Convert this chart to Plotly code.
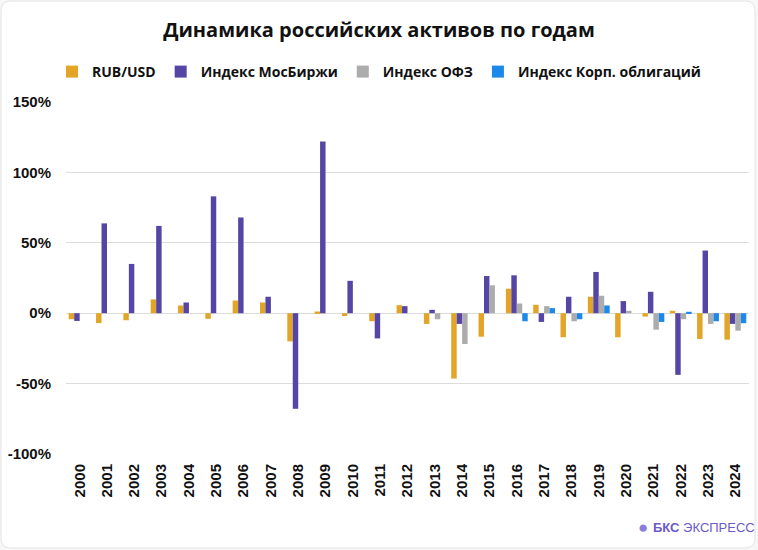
import plotly.graph_objects as go

years = [str(y) for y in range(2000, 2025)]
rub_usd = [-4.3, -7.0, -5.0, 9.8, 5.5, -4.0, 9.0, 7.6, -20.0, 1.2, -2.0, -5.7, 5.7, -7.6, -46.4, -16.7,
           17.4, 6.0, -17.1, 11.7, -17.1, -2.4, 1.7, -18.3, -18.8]
moex = [-5.5, 63.8, 35.0, 62.0, 7.6, 83.0, 68.0, 11.7, -67.9, 122.0, 23.0, -17.9, 5.0, 2.4, -7.6, 26.4,
        26.9, -6.2, 11.7, 29.3, 8.6, 15.2, -43.8, 44.5, -7.6]
ofz = [None, None, None, None, None, None, None, None, None, None, None, None, None, -4.3, -21.9, 19.8,
       6.9, 5.0, -5.7, 12.4, 1.7, -11.7, -4.3, -7.6, -12.4]
corp = [None, None, None, None, None, None, None, None, None, None, None, None, None, None, None, None,
        -5.7, 3.6, -4.3, 5.5, 0.0, -6.2, 1.0, -5.7, -7.1]
series_names = ["RUB/USD", "Индекс МосБиржи", "Индекс ОФЗ", "Индекс Корп. облигаций"]
colors = ["#E2A527", "#5546A6", "#ACACAC", "#1C88E8"]
y_ticks = [-100, -50, 0, 50, 100, 150]
y_tick_labels = [f"{v}%" for v in y_ticks]

W, H = 758, 550
ml, mr, mt, mb = 66, 9, 102, 96

fig = go.Figure()
for name, vals, col in zip(series_names, [rub_usd, moex, ofz, corp], colors):
    fig.add_trace(go.Bar(x=years, y=vals, name=name, marker=dict(color=col, line=dict(width=0))))

pw = W - ml - mr
ph = H - mt - mb
def px(x):
    return (x - ml) / pw
def py(y):
    return (H - mb - y) / ph
x0, y0, x1, y1, r = 1, 1, 755, 548, 10
path = (f"M {px(x0+r)},{py(y0)} L {px(x1-r)},{py(y0)} Q {px(x1)},{py(y0)} {px(x1)},{py(y0+r)} "
        f"L {px(x1)},{py(y1-r)} Q {px(x1)},{py(y1)} {px(x1-r)},{py(y1)} "
        f"L {px(x0+r)},{py(y1)} Q {px(x0)},{py(y1)} {px(x0)},{py(y1-r)} "
        f"L {px(x0)},{py(y0+r)} Q {px(x0)},{py(y0)} {px(x0+r)},{py(y0)} Z")

fig.update_layout(
    width=W, height=H,
    margin=dict(l=ml, r=mr, t=mt, b=mb, autoexpand=False),
    paper_bgcolor="#F7F7F7",
    plot_bgcolor="rgba(0,0,0,0)",
    barmode="group",
    bargap=0.2,
    bargroupgap=0,
    title=dict(text="<b>Динамика российских активов по годам</b>", x=379 / W, xanchor="center",
               xref="container", y=1 - 30 / H, yanchor="middle",
               font=dict(family="Open Sans", size=20, color="#111111")),
    legend=dict(orientation="h", x=(379 - ml) / pw, xanchor="center", y=py(72),
                yanchor="middle", font=dict(family="Open Sans", size=14, color="#111111", weight="bold"),
                itemwidth=30, itemsizing="constant", traceorder="normal",
                bgcolor="rgba(0,0,0,0)"),
    font=dict(family="Liberation Sans", color="#111111"),
    shapes=[dict(type="path", path=path, xref="paper", yref="paper",
                 fillcolor="white", line=dict(color="#E4E4E4", width=1), layer="below")],
    annotations=[
        dict(text="●", x=px(643), y=py(527), xref="paper", yref="paper",
             showarrow=False, xanchor="center", yanchor="middle",
             font=dict(size=17, color="#8C7FDA")),
        dict(text="<b>БКС</b> ЭКСПРЕСС", x=px(651), y=py(527), xref="paper", yref="paper",
             showarrow=False, xanchor="left", yanchor="middle",
             font=dict(family="Liberation Sans", size=13, color="#6A5BC8")),
    ],
)
fig.update_xaxes(type="category", tickangle=-90, showgrid=False, showline=False, ticks="",
                 automargin=False, ticklabelstandoff=6,
                 tickfont=dict(family="Liberation Sans", size=15, color="#111111", weight="bold"))
fig.update_yaxes(range=[-100, 150], tickvals=y_ticks, ticktext=y_tick_labels,
                 showgrid=True, gridcolor="#DCDCDC", gridwidth=1, automargin=False,
                 zeroline=True, zerolinecolor="#DCDCDC", zerolinewidth=1,
                 tickfont=dict(family="Liberation Sans", size=15, color="#111111", weight="bold"),
                 ticklabelstandoff=14)

fig.write_html("out.html", config={"displayModeBar": False},
               post_script="document.body.style.margin='0';document.body.style.overflow='hidden';")
